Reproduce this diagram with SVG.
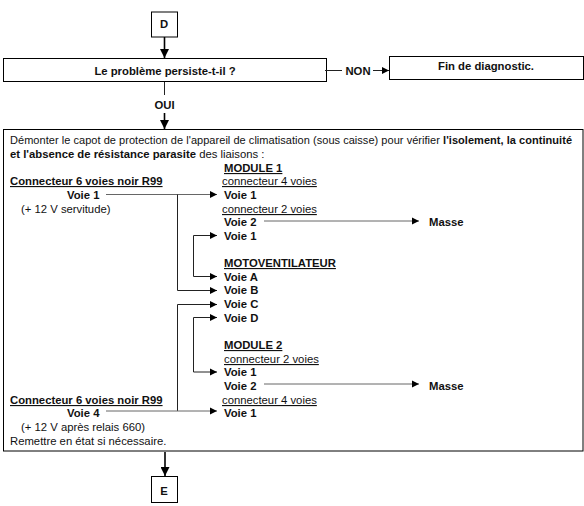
<svg xmlns="http://www.w3.org/2000/svg" width="584" height="506" viewBox="0 0 584 506">
<style>
text{font-family:"Liberation Sans",Arial,sans-serif;font-size:11.3px;fill:#111}
.b{font-weight:bold}
.m{text-anchor:middle}
.u{text-decoration:underline}
.box{fill:#fff;stroke:#000;stroke-width:1}
.thick{fill:none;stroke:#000;stroke-width:1.6}
.thin{fill:none;stroke:#222;stroke-width:1}
.mid{fill:none;stroke:#666;stroke-width:1}
</style>
<defs>
<marker id="a" markerUnits="userSpaceOnUse" markerWidth="8" markerHeight="8" refX="7" refY="4" orient="auto"><path d="M0,0.5L7,4L0,7.5Z" fill="#000"/></marker>
<marker id="A" markerUnits="userSpaceOnUse" markerWidth="11" markerHeight="9" refX="9" refY="4.5" orient="auto"><path d="M0,0L9,4.5L0,9Z" fill="#000"/></marker>
</defs>
<rect width="584" height="506" fill="#fff"/>
<g id="node-d"><rect class="box" x="151.500" y="12" width="26" height="25"/><text class="b m" x="164" y="28">D</text></g>
<g id="node-question"><rect class="box" x="3.500" y="58.500" width="323" height="23"/><text class="b m" x="165" y="75">Le problème persiste-t-il ?</text></g>
<g id="node-fin"><rect class="box" x="389.500" y="56.500" width="194" height="23"/><text class="b m" x="486" y="70">Fin de diagnostic.</text></g>
<g id="node-main"><rect class="box" x="3.500" y="129.500" width="579.500" height="321.500"/>
<text x="10" y="144" style="font-size:11px" textLength="562">Démonter le capot de protection de l'appareil de climatisation (sous caisse) pour vérifier <tspan class="b">l'isolement, la continuité</tspan></text>
<text x="10" y="158"><tspan class="b">et l'absence de résistance parasite</tspan> des liaisons :</text>
<text class="b u" x="10" y="185">Connecteur 6 voies noir R99</text>
<text class="b" x="67" y="199">Voie 1</text>
<text x="21" y="213">(+ 12 V servitude)</text>
<text class="b u" x="224" y="172">MODULE 1</text>
<text class="u" x="222" y="185">connecteur 4 voies</text>
<text class="b" x="224" y="199">Voie 1</text>
<text class="u" x="222" y="213">connecteur 2 voies</text>
<text class="b" x="224" y="226">Voie 2</text>
<text class="b" x="429" y="226">Masse</text>
<text class="b" x="224" y="240">Voie 1</text>
<text class="b u" x="224" y="267">MOTOVENTILATEUR</text>
<text class="b" x="224" y="281">Voie A</text>
<text class="b" x="224" y="294">Voie B</text>
<text class="b" x="224" y="308">Voie C</text>
<text class="b" x="224" y="322">Voie D</text>
<text class="b u" x="224" y="349">MODULE 2</text>
<text class="u" x="224" y="363">connecteur 2 voies</text>
<text class="b" x="224" y="376">Voie 1</text>
<text class="b" x="224" y="390">Voie 2</text>
<text class="b" x="429" y="390">Masse</text>
<text class="u" x="222" y="404">connecteur 4 voies</text>
<text class="b" x="224" y="417">Voie 1</text>
<text class="b u" x="10" y="404">Connecteur 6 voies noir R99</text>
<text class="b" x="67" y="417">Voie 4</text>
<text x="21" y="431">(+ 12 V après relais 660)</text>
<text x="10" y="445">Remettre en état si nécessaire.</text>
</g>
<g id="node-e"><rect class="box" x="151.500" y="476.500" width="26" height="26"/><text class="b m" x="164" y="495">E</text></g>
<g id="connectors">
<path class="thick" d="M164.500,37V58" marker-end="url(#A)"/>
<path class="thin" d="M325,70.500H342"/>
<path class="thin" d="M373,70.500H389" marker-end="url(#a)"/>
<path class="thin" d="M164.500,82V95"/>
<path class="thick" d="M164.500,113V129" marker-end="url(#A)"/>
<path class="thick" d="M165,452V476" marker-end="url(#A)"/>
<path class="mid" d="M106,194.500H217" marker-end="url(#a)"/>
<path class="thin" d="M177.500,194.500V290.500H217" marker-end="url(#a)"/>
<path class="thin" d="M217,235.500H193.500V276.500H217" marker-end="url(#a)"/>
<path class="mid" d="M264,221H419" marker-end="url(#a)"/>
<path class="thin" d="M177.500,411V304.500H217" marker-end="url(#a)"/>
<path class="thin" d="M217,317.500H193.500V372H217" marker-end="url(#a)"/>
<path class="mid" d="M264,384H419" marker-end="url(#a)"/>
<path class="mid" d="M106,411H217" marker-end="url(#a)"/>
<path d="M217,235.500l-7,-3.500v7Z M217,317.500l-7,-3.500v7Z" fill="#000"/>
</g>
<text class="b m" x="358" y="75">NON</text>
<text class="b m" x="164.500" y="109">OUI</text>
</svg>
